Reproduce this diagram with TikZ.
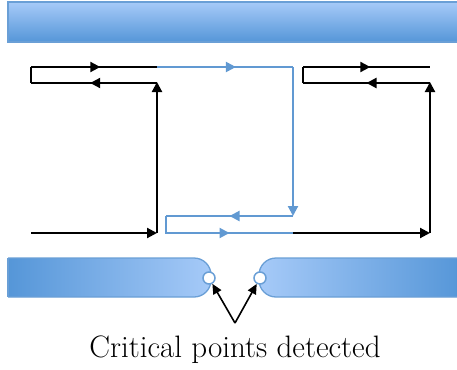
\documentclass[tikz,border=0pt]{standalone}
\usetikzlibrary{arrows.meta,decorations.markings}
\definecolor{barlight}{HTML}{A6CAF8}
\definecolor{bardark}{HTML}{5596D8}
\definecolor{barrim}{HTML}{6A9FD6}
\definecolor{flow}{HTML}{6199D2}
\tikzset{
  wire/.style={line width=2.1pt, black},
  bluewire/.style={line width=2.1pt, flow},
  tip/.style={-{Triangle[length=10pt,width=10pt]}},
  midtip/.style={postaction={decorate},
    decoration={markings, mark=at position #1 with {\arrow{Triangle[length=10pt,width=10pt]}}}},
  midtip/.default=0.5,
  joint/.style={circle, draw=barrim, fill=white, line width=1.5pt, minimum size=12pt, inner sep=0pt},
  caption/.style={font=\fontsize{31}{36}\selectfont}
}
\begin{document}
\begin{tikzpicture}[x=1pt,y=-1pt]
\useasboundingbox (0,0) rectangle (457,369);

% upper plate
\shade[top color=barlight, bottom color=bardark, draw=barrim, line width=1.3pt]
  (8,2) rectangle (462,42);

% lower plates with rounded tips
\shade[left color=bardark, right color=barlight, draw=barrim, line width=1.3pt, rounded corners=17pt]
  (8,258) -- (211,258) -- (211,297) -- (8,297);
\draw[barrim, line width=1.3pt] (8,258) -- (8,297);
\shade[right color=bardark, left color=barlight, draw=barrim, line width=1.3pt, rounded corners=17pt]
  (462,258) -- (259,258) -- (259,297) -- (462,297);
\fill[bardark] (456,258.7) rectangle (462,296.3);

\node[joint] (pl) at (209,278) {};
\node[joint] (pr) at (260,278) {};

% path corners
\coordinate (s)   at (31,233);
\coordinate (a1)  at (157,233);
\coordinate (a2)  at (157,83);
\coordinate (a3)  at (31,83);
\coordinate (a4)  at (31,67);
\coordinate (a5)  at (157,67);
\coordinate (b1)  at (293,67);
\coordinate (b2)  at (293,216);
\coordinate (b3)  at (166,216);
\coordinate (b4)  at (166,233);
\coordinate (b5)  at (293,233);
\coordinate (c1)  at (430,233);
\coordinate (c2)  at (430,83);
\coordinate (c3)  at (303,83);
\coordinate (c4)  at (303,67);
\coordinate (c5)  at (430,67);

% left loop
\draw[wire, tip] (s) -- (a1);
\draw[wire, tip, shorten >=-1pt] (a1) -- (a2);
\draw[wire, midtip=0.53] (a2) -- (a3);
\draw[wire] (a3) -- (a4);
\draw[wire, midtip=0.55] (a4) -- (a5);

% middle loop
\draw[bluewire, midtip=0.58] (a5) -- (b1);
\draw[bluewire, tip, line join=miter] (b1) -- (b2);
\draw[bluewire, midtip=0.5] (b2) -- (b3);
\draw[bluewire, line join=miter] (b3) -- (b4) -- (b5);
\draw[bluewire, midtip=0.5] (b4) -- (b5);

% right loop
\draw[wire, tip] (b5) -- (c1);
\draw[wire, tip, shorten >=-1pt] (c1) -- (c2);
\draw[wire, midtip=0.5] (c2) -- (c3);
\draw[wire] (c3) -- (c4);
\draw[wire, midtip=0.53] (c4) -- (c5);

% caption and pointers
\coordinate (v) at (235,323);
\node[caption] (cap) at (235,350) {Critical points detected};
\draw[line width=1.6pt, -{Triangle[length=10pt,width=9pt]}] (v) -- (pl);
\draw[line width=1.6pt, -{Triangle[length=10pt,width=9pt]}] (v) -- (pr);
\end{tikzpicture}
\end{document}
